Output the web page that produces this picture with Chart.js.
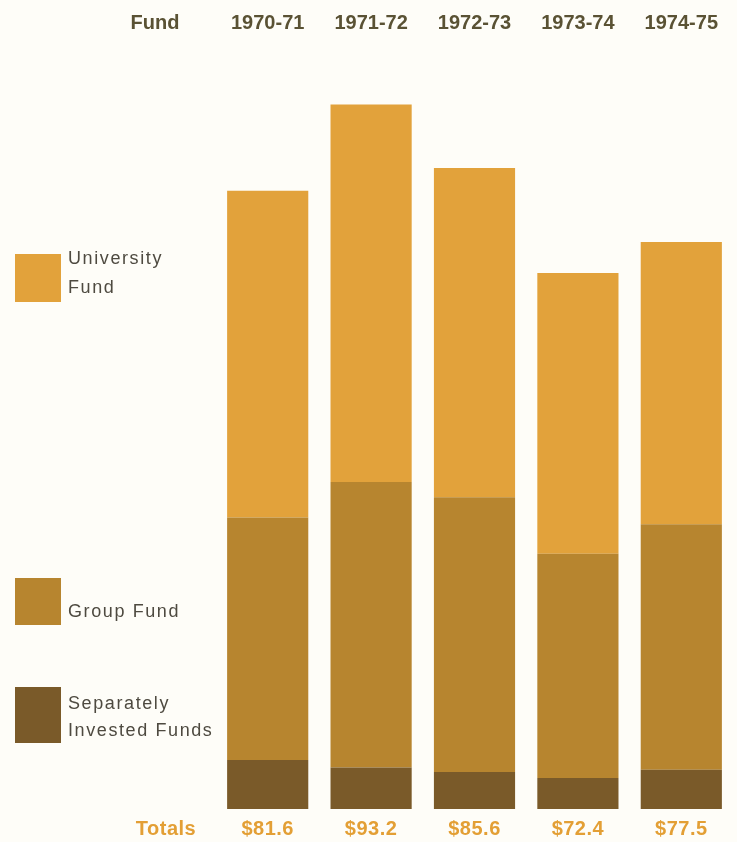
<!DOCTYPE html>
<html>
<head>
<meta charset="utf-8">
<script src="https://cdn.jsdelivr.net/npm/chart.js@4"></script>
<style>
  html, body { margin: 0; padding: 0; background: #fefdf8; }
  #wrap { width: 737px; height: 842px; position: relative; }
</style>
</head>
<body>
<div id="wrap"><canvas id="fundChart"></canvas></div>
<script>
// Dados do gráfico
const years = ['1970-71', '1971-72', '1972-73', '1973-74', '1974-75'];
const separatelyInvested = [6.5, 5.5, 4.9, 4.1, 5.2];
const groupFund = [32.1, 37.8, 36.4, 29.7, 32.5];
const universityFund = [43.3, 50.0, 43.6, 37.2, 37.4];
const totalLabels = ['$81.6', '$93.2', '$85.6', '$72.4', '$77.5'];

const colors = {
    university: '#e2a23b',
    group: '#b7852f',
    separate: '#7a5a29'
};

const headFont = 'bold 20px "Liberation Sans", Arial, sans-serif';
const totalFont = 'bold 20px "Liberation Sans", Arial, sans-serif';
const legendFont = '18px "Liberation Sans", Arial, sans-serif';

// Plugin para desenhar cabeçalhos, totais e legenda
const decorations = {
    id: 'decorations',
    afterDraw(chart) {
        const ctx = chart.ctx;
        const x = chart.scales.x;
        ctx.save();
        ctx.textAlign = 'center';
        ctx.textBaseline = 'middle';

        ctx.font = headFont;
        ctx.fillStyle = '#5a5234';
        ctx.fillText('Fund', 155, 23);
        years.forEach((y, i) => ctx.fillText(y, x.getPixelForValue(i), 23));

        ctx.font = totalFont;
        ctx.letterSpacing = '0.5px';
        ctx.fillStyle = '#e39f35';
        ctx.fillText('Totals', 166, 829);
        totalLabels.forEach((t, i) => ctx.fillText(t, x.getPixelForValue(i), 829));

        // legenda
        const items = [
            { color: colors.university, box: [15, 254, 46, 48], lines: ['University', 'Fund'], y0: 259, gap: 29 },
            { color: colors.group, box: [15, 578, 46, 47], lines: ['Group Fund'], y0: 612, gap: 0 },
            { color: colors.separate, box: [15, 687, 46, 56], lines: ['Separately', 'Invested Funds'], y0: 704, gap: 27 }
        ];
        ctx.textAlign = 'left';
        ctx.font = legendFont;
        ctx.letterSpacing = '1.6px';
        items.forEach(it => {
            ctx.fillStyle = it.color;
            ctx.fillRect(it.box[0], it.box[1], it.box[2], it.box[3]);
            ctx.fillStyle = '#4e4a40';
            it.lines.forEach((l, j) => ctx.fillText(l, 68, it.y0 + j * it.gap));
        });
        ctx.restore();
    }
};

function createFundChart() {
    const ctx = document.getElementById('fundChart').getContext('2d');
    new Chart(ctx, {
        type: 'bar',
        data: {
            labels: years,
            datasets: [
                { label: 'Separately Invested Funds', data: separatelyInvested, backgroundColor: colors.separate },
                { label: 'Group Fund', data: groupFund, backgroundColor: colors.group },
                { label: 'University Fund', data: universityFund, backgroundColor: colors.university }
            ]
        },
        options: {
            responsive: true,
            maintainAspectRatio: false,
            animation: false,
            layout: { padding: { left: 216, right: 4, top: 54, bottom: 33 } },
            datasets: { bar: { categoryPercentage: 1, barPercentage: 0.785 } },
            scales: {
                x: { stacked: true, display: false },
                y: { stacked: true, display: false, min: 0, max: 100 }
            },
            plugins: {
                legend: { display: false },
                tooltip: { enabled: false }
            }
        },
        plugins: [decorations]
    });
}

window.addEventListener('load', createFundChart);
</script>
</body>
</html>
